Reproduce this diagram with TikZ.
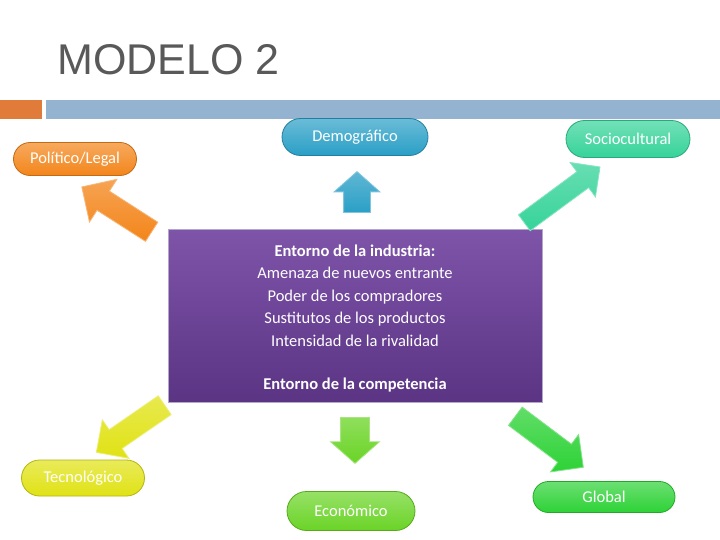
\documentclass[tikz,border=0pt]{standalone}
\usepackage{fontspec}
\setmainfont{Carlito}
\newfontfamily\titlefont{Liberation Sans}
\usetikzlibrary{shapes.arrows,shapes.misc}
\definecolor{titlegrey}{HTML}{595959}
\definecolor{accorange}{HTML}{E07B39}
\definecolor{barblue}{HTML}{94B3D1}
\definecolor{cdemo}{HTML}{2A9FC6}
\definecolor{cpol}{HTML}{F3851A}
\definecolor{csoc}{HTML}{36D39A}
\definecolor{ctec}{HTML}{E0E214}
\definecolor{ceco}{HTML}{6AD426}
\definecolor{cglo}{HTML}{2DD236}
\definecolor{purtop}{HTML}{7E54A9}
\definecolor{purbot}{HTML}{5B3484}
\definecolor{purline}{HTML}{B4A6C8}
\newcommand{\shaft}[1]{\rule{0pt}{#1}}
\tikzset{
  pill/.style={rounded rectangle, draw=#1!80!black, line width=0.8pt, top color=#1!70!white, bottom color=#1,
    inner sep=0pt, text=white, font=\fontsize{16.5}{16.5}\selectfont},
  blockarrow/.style={single arrow, inner sep=0pt, anchor=tail, top color=#1!75!white, bottom color=#1, draw=#1!60!white, line width=0.8pt},
  boxtext/.style={text=white, inner sep=0pt, anchor=base, font=\fontsize{16.5}{16.5}\selectfont},
  boxbold/.style={boxtext, font=\fontsize{16.5}{16.5}\selectfont\bfseries}
}
\begin{document}
\begin{tikzpicture}[x=1pt,y=-1pt]
\useasboundingbox (0,0) rectangle (720,540);
\fill[white] (0,0) rectangle (720,540);
\node[anchor=base west, inner sep=0pt, text=titlegrey, font=\titlefont\fontsize{43}{43}\selectfont] (title) at (57,75) {MODELO 2};
\fill[accorange] (0,100) rectangle (42,119);
\fill[barblue] (46,100) rectangle (720,119);

% center box
\node[draw=purline, line width=1pt, top color=purtop, bottom color=purbot, minimum width=374pt, minimum height=172pt, inner sep=0pt] (box) at (355,316) {};
\node[boxbold] (l1) at (355,256) {Entorno de la industria:};
\node[boxtext] (l2) at (355,278) {Amenaza de nuevos entrante};
\node[boxtext] (l3) at (355,301) {Poder de los compradores};
\node[boxtext] (l4) at (355,323) {Sustitutos de los productos};
\node[boxtext] (l5) at (355,346) {Intensidad de la rivalidad};
\node[boxbold] (l6) at (355,389) {Entorno de la competencia};

% pills
\node[pill=cpol, minimum width=123pt, minimum height=33pt] (pol) at (75,159) {Político/Legal};
\node[pill=cdemo, minimum width=146pt, minimum height=37pt] (demo) at (355,137) {Demográfico};
\node[pill=csoc, minimum width=124pt, minimum height=37pt] (soc) at (628,139) {Sociocultural};
\node[pill=ctec, minimum width=123pt, minimum height=36pt] (tec) at (83,478) {Tecnológico};
\node[pill=ceco, minimum width=128pt, minimum height=39pt] (eco) at (351,511) {Económico};
\node[pill=cglo, minimum width=142pt, minimum height=31pt] (glo) at (604,497) {Global};

% arrows
\node[blockarrow=cpol, minimum height=83pt, single arrow head extend=14pt, rotate=147.3] (apol) at (152,232) {\shaft{22pt}};
\node[blockarrow=cdemo, minimum height=41pt, single arrow head extend=9.5pt, single arrow tip angle=97, rotate=90] (ademo) at (357,213) {\shaft{26pt}};
\node[blockarrow=csoc, minimum height=94pt, single arrow head extend=11.5pt, rotate=36.4] (asoc) at (524,223) {\shaft{19pt}};
\node[blockarrow=ctec, minimum height=83pt, single arrow head extend=12pt, rotate=214.6] (atec) at (165,405) {\shaft{22pt}};
\node[blockarrow=ceco, minimum height=46pt, single arrow head extend=10pt, single arrow tip angle=97, rotate=-90] (aeco) at (355,417) {\shaft{28pt}};
\node[blockarrow=cglo, minimum height=85pt, single arrow head extend=12pt, rotate=-36.9] (aglo) at (515,416) {\shaft{22pt}};
\end{tikzpicture}
\end{document}
